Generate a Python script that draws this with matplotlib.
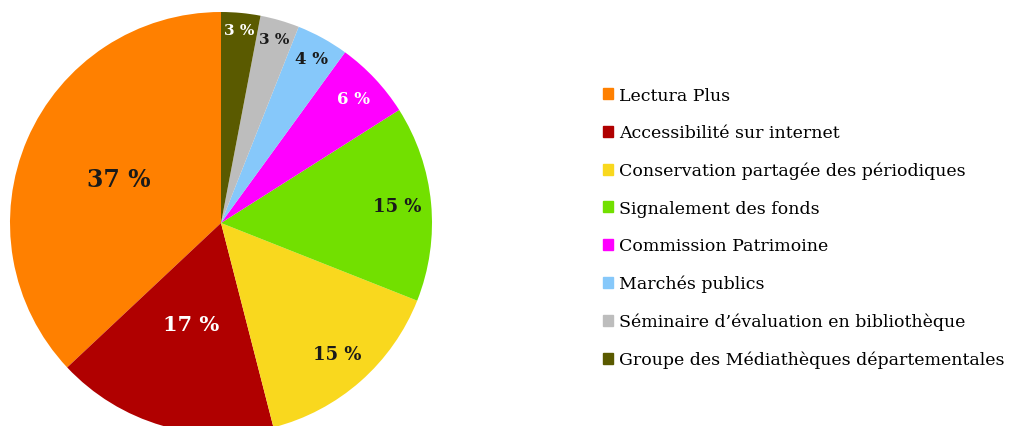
import matplotlib
matplotlib.use("Agg")
import matplotlib.pyplot as plt
import matplotlib.patches as mpatches
import numpy as np

categories = ["Lectura Plus", "Accessibilité sur internet",
              "Conservation partagée des périodiques", "Signalement des fonds",
              "Commission Patrimoine", "Marchés publics",
              "Séminaire d’évaluation en bibliothèque",
              "Groupe des Médiathèques départementales"]
values = [37, 17, 15, 15, 6, 4, 3, 3]
colors = ["#FF8000", "#B00000", "#F9D81E", "#72E000", "#FF00FF", "#86C8FA", "#BDBDBD", "#5A5A00"]
label_colors = ["#1a1a1a", "white", "#1a1a1a", "#1a1a1a", "white", "#1a1a1a", "#1a1a1a", "white"]
label_dist = [0.53, 0.50, 0.83, 0.84, 0.86, 0.89, 0.91, 0.92]
label_size = [17, 15, 13, 13, 12, 12, 11, 11]

W, H = 1013, 427
fig = plt.figure(figsize=(W / 100, H / 100), dpi=100)
cx, cy, r = 221, 224, 211
ax = fig.add_axes([(cx - r) / W, (H - cy - r) / H, 2 * r / W, 2 * r / H])
wedges, _ = ax.pie(values, colors=colors, startangle=90, counterclock=True,
                   radius=1, wedgeprops=dict(linewidth=0))
for w, v, c, d, s in zip(wedges, values, label_colors, label_dist, label_size):
    th = np.deg2rad((w.theta1 + w.theta2) / 2)
    ax.text(d * np.cos(th), d * np.sin(th), f"{v} %", ha="center", va="center",
            color=c, fontsize=s, fontweight="bold", family="DejaVu Serif")
ax.set_xlim(-1, 1)
ax.set_ylim(-1, 1)
ax.set_aspect("equal")
ax.axis("off")

handles = [mpatches.Patch(color=c) for c in colors]
fig.legend(handles, categories, loc="upper left", bbox_to_anchor=(603 / W, 1 - 88 / H),
           frameon=False, prop=dict(family="DejaVu Serif", size=12.5),
           handlelength=0.6, handleheight=0.6, handletextpad=0.35,
           labelspacing=1.18, borderaxespad=0, borderpad=0)
fig.savefig("out.png", dpi=100)
